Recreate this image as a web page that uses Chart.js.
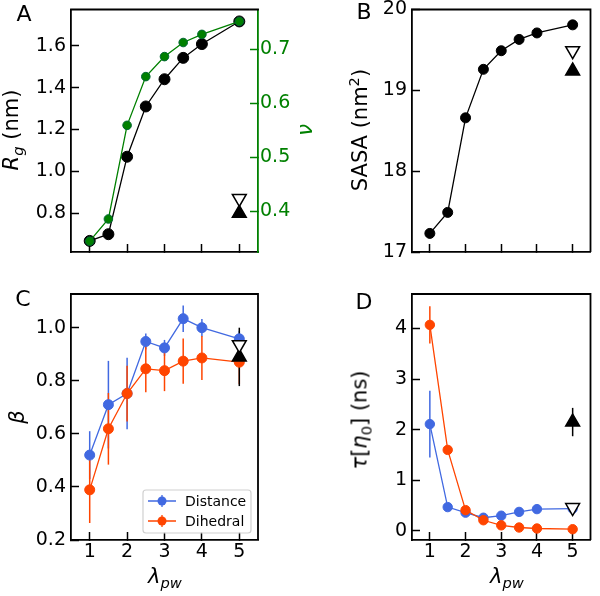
<!DOCTYPE html>
<html>
<head>
<meta charset="utf-8">
<script src="https://cdn.jsdelivr.net/npm/chart.js@4.4.1/dist/chart.umd.min.js"></script>
<style>
  body { margin: 0; background: #fff; }
  #wrap { position: relative; width: 600px; height: 596px; font-family: 'DejaVu Sans', sans-serif; }
  canvas { position: absolute; left: 0; top: 0; }
  .lab { position: absolute; white-space: nowrap; transform: translate(-50%, -50%); font-size: 21px; color: #000; line-height: 1; }
  .rot { transform: translate(-50%, -50%) rotate(-90deg); }
  .pan { position: absolute; transform: translate(-50%, -50%); font-size: 22px; line-height: 1; }
  i { font-style: italic; }
  sub, sup { font-size: 70%; line-height: 0; }
</style>
</head>
<body>
<div id="wrap">
  <canvas id="cA" width="600" height="596"></canvas>
  <canvas id="cB" width="600" height="596"></canvas>
  <canvas id="cC" width="600" height="596"></canvas>
  <canvas id="cD" width="600" height="596"></canvas>

  <div class="pan" style="left:24px;top:14px">A</div>
  <div class="pan" style="left:364px;top:12px">B</div>
  <div class="pan" style="left:23px;top:299px">C</div>
  <div class="pan" style="left:364px;top:302px">D</div>

  <div class="lab rot" style="left:11px;top:130px"><i>R<sub>g</sub></i> (nm)</div>
  <div class="lab rot" style="left:305px;top:130px;color:#008000"><i>ν</i></div>
  <div class="lab rot" style="left:360px;top:130px">SASA (nm<sup>2</sup>)</div>
  <div class="lab rot" style="left:17px;top:417px"><i>β</i></div>
  <div class="lab rot" style="left:360px;top:420px"><i>τ</i>[<i>η</i><sub>0</sub>] (ns)</div>
  <div class="lab" style="left:165px;top:576px"><i>λ<sub>pw</sub></i></div>
  <div class="lab" style="left:507px;top:576px"><i>λ<sub>pw</sub></i></div>
</div>

<script>
// lambda_pw values (x)
const lambdaPw = [1, 1.5, 2, 2.5, 3, 3.5, 4, 5];
const xTicks = [1, 2, 3, 4, 5];

// panel A
const rg = [0.668, 0.70, 1.07, 1.31, 1.44, 1.542, 1.608, 1.716];
const nu = [0.345, 0.386, 0.559, 0.649, 0.686, 0.712, 0.727, 0.751];
const rgRefOpen = 0.871;
const rgRefFilled = 0.80;

// panel B
const sasa = [17.23, 17.49, 18.66, 19.26, 19.49, 19.63, 19.71, 19.81];
const sasaRefOpen = 19.49;
const sasaRefFilled = 19.24;

// panel C
const betaDist = [0.52, 0.71, 0.752, 0.948, 0.924, 1.034, 1.0, 0.958];
const betaDistErr = [0.09, 0.165, 0.135, 0.03, 0.03, 0.05, 0.033, 0.03];
const betaDih = [0.389, 0.619, 0.752, 0.845, 0.838, 0.874, 0.886, 0.87];
const betaDihErr = [0.125, 0.135, 0.105, 0.088, 0.077, 0.085, 0.083, 0.083];
const betaRefOpen = 0.936;
const betaRefFilled = 0.89;
const betaRefFilledErr = 0.11;

// panel D
const tauDist = [2.11, 0.47, 0.36, 0.26, 0.30, 0.375, 0.43, 0.44];
const tauDistErr = [0.66, 0.03, 0.03, 0.02, 0.02, 0.02, 0.02, 0.02];
const tauDih = [4.07, 1.6, 0.41, 0.21, 0.11, 0.067, 0.047, 0.033];
const tauDihErr = [0.37, 0.05, 0.03, 0.02, 0.02, 0.01, 0.01, 0.01];
const tauRefOpen = 0.46;
const tauRefFilled = 2.15;
const tauRefFilledErr = 0.28;

const REF_X = 5;
const GREEN = '#008000';
const BLUE = '#4169E1';
const RED = '#FF4500';

Chart.defaults.font.family = "'DejaVu Sans', sans-serif";
Chart.defaults.font.size = 19;
Chart.defaults.color = '#000';
Chart.defaults.animation = false;
Chart.defaults.plugins.legend.display = false;
Chart.defaults.plugins.tooltip.enabled = false;

const W = 600, H = 596;
const pts = (ys) => lambdaPw.map((x, i) => ({ x, y: ys[i] }));

// fixed axis sizes so the plot boxes land where the reference has them
const fixW = w => s => { s.width = w; s.paddingTop = 0; s.paddingBottom = 0; };
const fixH = h => s => { s.height = h; s.paddingLeft = 0; s.paddingRight = 0; };

function grid(color) {
    return { display: true, drawOnChartArea: false, drawTicks: true, tickLength: -8, tickColor: color, tickWidth: 1.5 };
}

function xAxis(showLabels) {
    return {
        type: 'linear', min: 0.5, max: 5.5,
        grid: grid('#000'),
        border: { display: true, color: '#000', width: 1.8 },
        afterBuildTicks: s => { s.ticks = xTicks.map(v => ({ value: v })); },
        ticks: { padding: 9, callback: v => showLabels ? String(v) : '' },
        afterFit: fixH(30)
    };
}

function yAxis(min, max, step, dec, pos, color) {
    return {
        type: 'linear', position: pos, min, max,
        grid: grid(color),
        border: { display: true, color, width: 1.8 },
        ticks: { stepSize: step, includeBounds: false, color, padding: pos === 'left' ? 13 : 10,
                 callback: v => Number(v).toFixed(dec) },
        afterFit: fixW(pos === 'left' ? 60 : 40)
    };
}

// error bars drawn with the chart scales
const errorBars = {
    id: 'errorBars',
    beforeDatasetsDraw(chart) {
        const ctx = chart.ctx;
        chart.data.datasets.forEach(ds => {
            if (!ds.errors) return;
            const xs = chart.scales.x, ys = chart.scales[ds.yAxisID || 'y'];
            ctx.save();
            ctx.strokeStyle = ds.errColor || ds.borderColor;
            ctx.lineWidth = 1.5;
            ds.data.forEach((p, k) => {
                const e = ds.errors[k];
                if (!e) return;
                const px = xs.getPixelForValue(p.x);
                ctx.beginPath();
                ctx.moveTo(px, ys.getPixelForValue(p.y - e));
                ctx.lineTo(px, ys.getPixelForValue(p.y + e));
                ctx.stroke();
            });
            ctx.restore();
        });
    }
};

// top / right spines
const frame = {
    id: 'frame',
    afterDraw(chart, args, opts) {
        const { left, right, top } = chart.chartArea;
        const ctx = chart.ctx;
        ctx.save();
        ctx.strokeStyle = '#000';
        ctx.lineWidth = 1.8;
        ctx.beginPath();
        ctx.moveTo(left - 0.9, top);
        ctx.lineTo(right + 0.9, top);
        if (opts.right) {
            ctx.moveTo(right, top);
            ctx.lineTo(right, chart.chartArea.bottom);
        }
        ctx.stroke();
        ctx.restore();
    }
};

// legend box inside panel C
const insetLegend = {
    id: 'insetLegend',
    afterDraw(chart, args, opts) {
        if (!opts.items) return;
        const ctx = chart.ctx;
        const ca = chart.chartArea;
        const bw = 108, bh = 43;
        const bx = ca.right - 7 - bw, by = ca.bottom - 7 - bh;
        ctx.save();
        ctx.fillStyle = 'rgba(255,255,255,0.8)';
        ctx.strokeStyle = '#d0d0d0';
        ctx.lineWidth = 1.2;
        ctx.beginPath();
        ctx.roundRect(bx, by, bw, bh, 3);
        ctx.fill();
        ctx.stroke();
        opts.items.forEach((it, i) => {
            const y = by + 11 + i * 20;
            ctx.strokeStyle = it.color;
            ctx.fillStyle = it.color;
            ctx.lineWidth = 1.3;
            ctx.beginPath();
            ctx.moveTo(bx + 5, y); ctx.lineTo(bx + 33, y);
            ctx.moveTo(bx + 19, y - 6); ctx.lineTo(bx + 19, y + 6);
            ctx.stroke();
            ctx.beginPath();
            ctx.arc(bx + 19, y, 4.5, 0, Math.PI * 2);
            ctx.fill();
            ctx.fillStyle = '#000';
            ctx.font = "14px 'DejaVu Sans'";
            ctx.textBaseline = 'middle';
            ctx.fillText(it.text, bx + 42, y + 1);
        });
        ctx.restore();
    }
};

function layout(box, yW, rW, xH) {
    return { padding: { left: box.l - yW, right: W - box.r - rW, top: box.t, bottom: H - box.b - xH } };
}

function series(data, color, r, order, extra) {
    return Object.assign({
        data, showLine: true, borderColor: color, backgroundColor: color,
        borderWidth: 1.3, pointRadius: r, pointBorderColor: color, pointBackgroundColor: color,
        pointBorderWidth: 1, order
    }, extra || {});
}

function ref(y, filled, yAxisID, err) {
    return {
        data: [{ x: REF_X, y }], showLine: false, yAxisID: yAxisID || 'y',
        pointStyle: 'triangle', pointRotation: filled ? 0 : 180, pointRadius: 8,
        pointBackgroundColor: filled ? '#000' : '#fff', pointBorderColor: '#000', pointBorderWidth: 1.5,
        borderColor: '#000', errors: err ? [err] : null, errColor: '#000', order: 0
    };
}

// Panel A
new Chart(document.getElementById('cA'), {
    type: 'scatter',
    data: {
        datasets: [
            series(pts(rg), '#000', 5.5, 3, { pointBorderColor: '#000' }),
            series(pts(nu), GREEN, 4.3, 2, { yAxisID: 'y2', pointBorderColor: '#063' }),
            ref(rgRefOpen, false),
            ref(rgRefFilled, true)
        ]
    },
    options: {
        responsive: false,
        layout: layout({ l: 71, r: 258, t: 6, b: 252 }, 60, 40, 30),
        scales: {
            x: xAxis(false),
            y: yAxis(0.615, 1.773, 0.2, 1, 'left', '#000'),
            y2: yAxis(0.325, 0.773, 0.1, 1, 'right', GREEN)
        },
        plugins: { frame: { right: false } }
    },
    plugins: [errorBars, frame]
});

// Panel B
new Chart(document.getElementById('cB'), {
    type: 'scatter',
    data: {
        datasets: [
            series(pts(sasa), '#000', 5, 2),
            ref(sasaRefOpen, false),
            ref(sasaRefFilled, true)
        ]
    },
    options: {
        responsive: false,
        layout: layout({ l: 412, r: 598, t: 7, b: 252 }, 60, 0, 30),
        scales: {
            x: xAxis(false),
            y: yAxis(17, 20, 1, 0, 'left', '#000')
        },
        plugins: { frame: { right: true } }
    },
    plugins: [errorBars, frame]
});

// Panel C
new Chart(document.getElementById('cC'), {
    type: 'scatter',
    data: {
        datasets: [
            series(pts(betaDist), BLUE, 5, 3, { errors: betaDistErr }),
            series(pts(betaDih), RED, 5, 2, { errors: betaDihErr }),
            ref(betaRefOpen, false),
            ref(betaRefFilled, true, 'y', betaRefFilledErr)
        ]
    },
    options: {
        responsive: false,
        layout: layout({ l: 71, r: 258, t: 294, b: 540 }, 60, 0, 30),
        scales: {
            x: xAxis(true),
            y: yAxis(0.2, 1.127, 0.2, 1, 'left', '#000')
        },
        plugins: {
            frame: { right: true },
            insetLegend: { items: [{ text: 'Distance', color: BLUE }, { text: 'Dihedral', color: RED }] }
        }
    },
    plugins: [errorBars, frame, insetLegend]
});

// Panel D
new Chart(document.getElementById('cD'), {
    type: 'scatter',
    data: {
        datasets: [
            series(pts(tauDist), BLUE, 4.7, 3, { errors: tauDistErr }),
            series(pts(tauDih), RED, 4.7, 2, { errors: tauDihErr }),
            ref(tauRefOpen, false),
            ref(tauRefFilled, true, 'y', tauRefFilledErr)
        ]
    },
    options: {
        responsive: false,
        layout: layout({ l: 412, r: 598, t: 294, b: 540 }, 60, 0, 30),
        scales: {
            x: xAxis(true),
            y: yAxis(-0.18, 4.68, 1, 0, 'left', '#000')
        },
        plugins: { frame: { right: true } }
    },
    plugins: [errorBars, frame]
});
</script>
</body>
</html>
